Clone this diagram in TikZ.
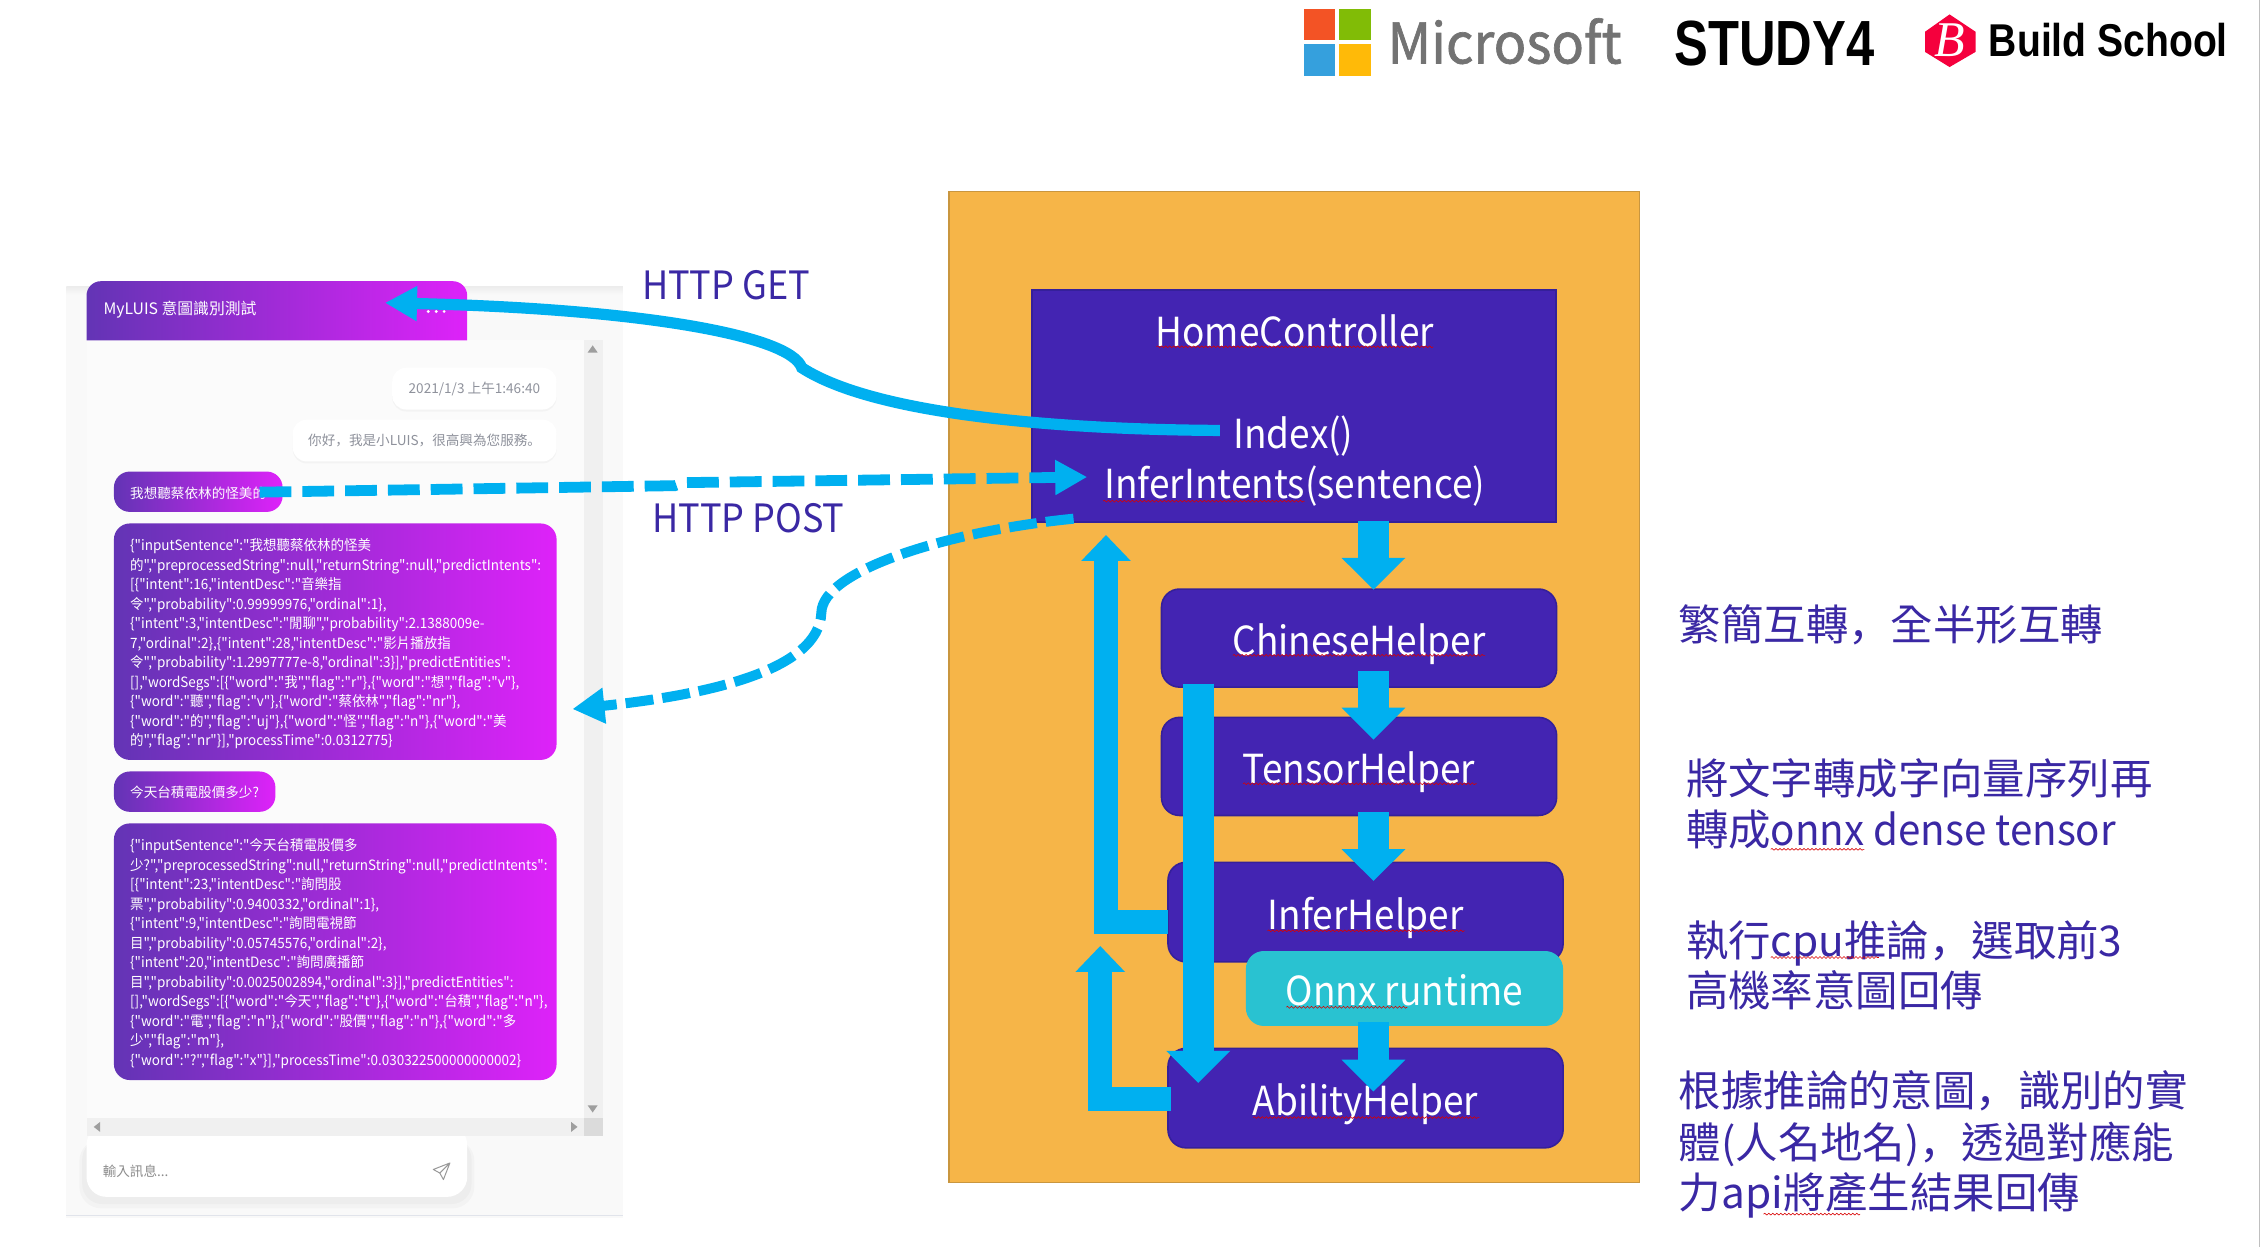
\documentclass[tikz,border=0pt]{standalone}
\usepackage{fontspec}
\usepackage{graphicx}
\setmainfont{Noto Sans CJK TC}
\newfontfamily\scf{Noto Sans CJK SC}
\newfontfamily\lab[FakeStretch=0.925]{Noto Sans CJK TC}
\newfontfamily\latn[FakeStretch=0.95]{Noto Sans CJK TC}
\newfontfamily\chatf[FakeStretch=0.95]{Noto Sans CJK TC}
\newfontfamily\msf[FakeBold=1.2,FakeStretch=0.96]{Noto Sans CJK TC}
\newfontfamily\boldf{Liberation Sans Bold}
\newfontfamily\bsf[FakeStretch=0.85]{Liberation Sans Bold}
\newfontfamily\serifit{Liberation Serif Italic}
\usetikzlibrary{arrows.meta,decorations.pathmorphing,shadows}
\definecolor{orangebg}{HTML}{F6B548}
\definecolor{orangeln}{HTML}{C9963F}
\definecolor{boxblue}{HTML}{4324B2}
\definecolor{boxln}{HTML}{35209A}
\definecolor{teal}{HTML}{29C2D1}
\definecolor{arrowc}{HTML}{00B0F0}
\definecolor{inkblue}{HTML}{3A28A4}
\definecolor{gl}{HTML}{6334B5}
\definecolor{gr}{HTML}{DE22F9}
\definecolor{greytxt}{HTML}{8F929C}
\tikzset{
  x=0.721pt,y=-0.721pt,
  boxfont/.style={font=\lab\fontsize{20}{24}\selectfont,text=white,text height=20.5pt,text depth=3.2pt},
  helper/.style={draw=boxln,line width=0.8pt,fill=boxblue,rounded corners=9pt,boxfont,inner sep=0pt},
  lbl/.style={boxfont,inner sep=0pt},
  flow/.style={draw=arrowc,line width=15.3pt,-{Triangle[length=16pt,width=31pt]}},
  backflow/.style={draw=arrowc,line width=12pt,-{Triangle[length=13pt,width=24pt]}},
  curve/.style={draw=arrowc,line width=5.6pt,-{Triangle[length=16pt,width=16.5pt]}},
  dashy/.style={draw=arrowc,line width=5.4pt,dash pattern=on 15.9pt off 5.5pt,-{Triangle[length=16pt,width=16.5pt]}},
  dashyb/.style={draw=arrowc,line width=5pt,dash pattern=on 14pt off 4.5pt,-{Triangle[length=16pt,width=17pt]}},
  httpl/.style={font=\lab\fontsize{19.5}{24}\selectfont,text=inkblue,inner sep=0pt,anchor=base west},
  side/.style={font=\fontsize{21.2}{25.45}\selectfont,text=inkblue,inner sep=0pt,align=left,anchor=west,text height=19pt,text depth=3pt},
  grad/.style={left color=gl,right color=gr,draw=none,inner sep=0pt},
  chat/.style={font=\chatf\fontsize{7.1}{9.73}\selectfont,text=white,inner sep=0pt,align=left,anchor=north west},
  small/.style={font=\fontsize{6.8}{9}\selectfont,inner sep=0pt},
  soft/.style={fill=white,draw=none,rounded corners=7pt,inner sep=0pt,drop shadow={opacity=.06,shadow xshift=0pt,shadow yshift=-1pt}},
  squig/.style={draw=red!85!black,line width=0.3pt,decorate,decoration={snake,amplitude=0.45pt,segment length=2pt}},
  scrolltri/.style={fill=black!38,draw=none},
}
\begin{document}
\begin{tikzpicture}
\useasboundingbox (0,0) rectangle (1568,864.8);
\fill[white] (0,0) rectangle (1568,864.8);
\draw[black!25,line width=0.6pt] (1567,0) -- (1567,864.8);

% logos
\fill[fill={rgb,255:red,243;green,83;blue,37}] (904,6) rectangle (926,28);
\fill[fill={rgb,255:red,129;green,188;blue,6}] (928.5,6) rectangle (951,28);
\fill[fill={rgb,255:red,53;green,160;blue,221}] (904,30.5) rectangle (926,53);
\fill[fill={rgb,255:red,255;green,186;blue,8}] (928.5,30.5) rectangle (951,53);
\node[inner sep=0pt,anchor=base west,text={rgb,255:red,115;green,115;blue,115},font=\msf\fontsize{28}{32}\selectfont] (ms) at (962,44) {Microsoft};
\node[inner sep=0pt] (study) at (1230.5,30.5) {\resizebox{100pt}{22.3pt}{\boldf STUDY4}};
\fill[fill={rgb,255:red,245;green,0;blue,61}] (1352,10) -- (1370,22) -- (1370,36) -- (1352,46.5) -- (1335,36) -- (1335,22) -- cycle;
\node[inner sep=0pt,text=white,font=\serifit\fontsize{25}{28}\selectfont] (bsb) at (1352,28) {B};
\node[inner sep=0pt,anchor=base west,font=\bsf\fontsize{23}{26}\selectfont] (bs) at (1379,39) {Build School};

% chat window
\fill[fill=black!2.5] (46,199) rectangle (432,845);
\shade[top color=black!7,bottom color=black!2.5] (46,199) rectangle (432,204);
\draw[line width=0.6pt,draw={rgb,255:red,225;green,228;blue,235}] (46,843) -- (432,843);
\fill[fill={rgb,255:red,251;green,251;blue,251}] (60,236) rectangle (405,775);
\fill[fill=black!6] (405,236) rectangle (418,775);
% input
\path[fill=black,opacity=.025,rounded corners=11pt] (55,790) rectangle (329,838);
\path[fill=black,opacity=.025,rounded corners=10pt] (57,790) rectangle (327,835);
\path[fill=white,rounded corners=10pt] (60,780) rectangle (324,830);
\fill[fill=black!6] (60,775) rectangle (405,788);
\fill[fill=black!14] (405,775) rectangle (418,788);
\fill[scrolltri] (411,239.5) -- (414.5,244.5) -- (407.5,244.5) -- cycle;
\fill[scrolltri] (411,771.5) -- (414.5,766.5) -- (407.5,766.5) -- cycle;
\fill[scrolltri] (65,781.5) -- (69.5,778) -- (69.5,785) -- cycle;
\fill[scrolltri] (400.5,781.5) -- (396,778) -- (396,785) -- cycle;
\node[small,text=black!45,anchor=west] (inp) at (71,812) {輸入訊息...};
\draw[black!40,line width=0.5pt,line join=round] (312,806.5) -- (300.5,811) -- (305,813.5) -- (307.5,818) -- cycle (305,813.5) -- (312,806.5);
% header
\path[grad] (60,236) [rounded corners=7.2pt] -- (60,195) -- (324,195) [sharp corners] -- (324,236) -- cycle;
\node[small,text=white,anchor=west,font=\fontsize{7.9}{9}\selectfont] (title) at (71.5,214.5) {MyLUIS 意圖識別測試};
\fill[white] (297,216) circle (1.1) (302.5,216) circle (1.1) (308,216) circle (1.1);
% bubbles
\node[soft,minimum width=114*0.721pt,minimum height=29*0.721pt,small,text=greytxt] (time) at (329,269.5) {2021/1/3 上午1:46:40};
\node[soft,minimum width=183*0.721pt,minimum height=29*0.721pt,small,text=greytxt] (hello) at (294.5,305.5) {你好{\scf，}我是小LUIS{\scf，}很高興為您服務{\scf。}};
\node[grad,rounded corners=8pt,minimum width=117*0.721pt,minimum height=28*0.721pt] (q1) at (137.5,341) {};
\node[small,text=white,anchor=west] (q1t) at (90,342) {我想聽蔡依林的怪美的};
\node[grad,rounded corners=8pt,minimum width=307*0.721pt,minimum height=164*0.721pt] (r1) at (232.5,445) {};
\node[chat] (r1t) at (90,373.5) {\{"inputSentence":"我想聽蔡依林的怪美\\
的","preprocessedString":null,"returnString":null,"predictIntents":\\
{[}\{"intent":16,"intentDesc":"音樂指\\
令","probability":0.99999976,"ordinal":1\},\\
\{"intent":3,"intentDesc":"閒聊","probability":2.1388009e-\\
7,"ordinal":2\},\{"intent":28,"intentDesc":"影片播放指\\
令","probability":1.2997777e-8,"ordinal":3\}],"predictEntities":\\
{[}],"wordSegs":[\{"word":"我","flag":"r"\},\{"word":"想","flag":"v"\},\\
\{"word":"聽","flag":"v"\},\{"word":"蔡依林","flag":"nr"\},\\
\{"word":"的","flag":"uj"\},\{"word":"怪","flag":"n"\},\{"word":"美\\
的","flag":"nr"\}],"processTime":0.0312775\}};
\node[grad,rounded corners=8pt,minimum width=112*0.721pt,minimum height=28*0.721pt] (q2) at (135,549) {};
\node[small,text=white,anchor=west] (q2t) at (90,549.5) {今天台積電股價多少?};
\node[grad,rounded corners=8pt,minimum width=307*0.721pt,minimum height=178*0.721pt] (r2) at (232.5,660) {};
\node[chat] (r2t) at (90,581.5) {\{"inputSentence":"今天台積電股價多\\
少?","preprocessedString":null,"returnString":null,"predictIntents":\\
{[}\{"intent":23,"intentDesc":"詢問股\\
票","probability":0.9400332,"ordinal":1\},\\
\{"intent":9,"intentDesc":"詢問電視節\\
目","probability":0.05745576,"ordinal":2\},\\
\{"intent":20,"intentDesc":"詢問廣播節\\
目","probability":0.0025002894,"ordinal":3\}],"predictEntities":\\
{[}],"wordSegs":[\{"word":"今天","flag":"t"\},\{"word":"台積","flag":"n"\},\\
\{"word":"電","flag":"n"\},\{"word":"股價","flag":"n"\},\{"word":"多\\
少","flag":"m"\},\\
\{"word":"?","flag":"x"\}],"processTime":0.030322500000000002\}};

% main panel
\node[draw=orangeln,line width=0.7pt,fill=orangebg,minimum width=479*0.721pt,minimum height=687*0.721pt,inner sep=0pt] (panel) at (897.5,476.5) {};
\node[draw=boxln,line width=1pt,fill=boxblue,minimum width=363*0.721pt,minimum height=161*0.721pt,inner sep=0pt] (home) at (897.5,281.5) {};
\node[lbl] (homet) at (898,228) {HomeController};
\node[lbl] (index) at (897,299) {Index()};
\node[lbl] (infer) at (898,334) {InferIntents(sentence)};
\node[helper,minimum width=274*0.721pt,minimum height=68*0.721pt] (chinese) at (942.5,442.5) {ChineseHelper};
\node[helper,minimum width=274*0.721pt,minimum height=68*0.721pt] (tensor) at (942.5,531.5) {TensorHelper};
\node[helper,minimum width=274*0.721pt,minimum height=69*0.721pt] (inferh) at (947,632.5) {InferHelper};
\node[helper,minimum width=274*0.721pt,minimum height=69*0.721pt] (ability) at (947,761.5) {AbilityHelper};
\node[draw=none,fill=teal,rounded corners=9pt,boxfont,inner sep=0pt,minimum width=220*0.721pt,minimum height=52*0.721pt] (onnx) at (974,685.5) {Onnx runtime};

% squiggles
\draw[squig] (802,240.5) -- (994,240.5);
\draw[squig] (765,347.5) -- (905,347.5);
\draw[squig] (855,454.5) -- (1030,454.5);
\draw[squig] (862,543.5) -- (1024,543.5);
\draw[squig] (879,645.5) -- (1016,645.5);
\draw[squig] (892,698.5) -- (976,698.5);
\draw[squig] (869,775) -- (1026,775);

% connector ends
\coordinate (a1s) at (952.5,361);
\coordinate (a1e) at (952.5,409);
\coordinate (a2s) at (952.5,465);
\coordinate (a2e) at (952.5,513);
\coordinate (a3s) at (952.5,563);
\coordinate (a3e) at (952.5,611);
\coordinate (a4s) at (952.5,709);
\coordinate (a4e) at (952.5,757);
\coordinate (ls) at (831,474);
\coordinate (le) at (831,751);
\coordinate (bis) at (810,639.5);
\coordinate (bim) at (767,639.5);
\coordinate (bie) at (767,371);
\coordinate (bas) at (812,762);
\coordinate (bam) at (763,762);
\coordinate (bae) at (763,656);
\coordinate (gets) at (846,298.5);
\coordinate (getm) at (556,255);
\coordinate (gete) at (267,210);
\coordinate (posts) at (180,341.3);
\coordinate (postm) at (468,336.8);
\coordinate (postn) at (474,334.7);
\coordinate (poste) at (754,330.8);
\coordinate (rets) at (744.5,359.7);
\coordinate (retm) at (569.6,425);
\coordinate (rete) at (397,491.7);

% connectors
\draw[flow] (a1s) -- (a1e);
\draw[flow] (a2s) -- (a2e);
\draw[flow] (a3s) -- (a3e);
\draw[flow] (a4s) -- (a4e);
\draw[flow] (ls) -- (le);
\draw[backflow] (bis) -- (bim) -- (bie);
\draw[backflow] (bas) -- (bam) -- (bae);
\draw[curve] (gets) .. controls (750,298) and (610,290) .. (getm) .. controls (548,232) and (440,214) .. (gete);
\draw[dashy] (posts) -- (postm) -- (postn) -- (poste);
\draw[dashyb] (rets) .. controls (660,368) and (570,395) .. (retm) .. controls (568,465) and (490,482) .. (rete);

% labels
\node[httpl] (get) at (445,208) {HTTP GET};
\node[httpl] (post) at (452,369) {HTTP POST};
\node[side] (s1) at (1164,433) {繁簡互轉{\scf，}全半形互轉};
\node[side] (s2) at (1169,540) {將文字轉成字向量序列再};
\node[side] (s2b) at (1169,575) {轉成{\latn onnx dense tensor}};
\node[side] (s3) at (1169,652) {執行cpu推論{\scf，}選取前3};
\node[side] (s3b) at (1169,687) {高機率意圖回傳};
\node[side] (s4) at (1164,756) {根據推論的意圖{\scf，}識別的實};
\node[side] (s4b) at (1164,792) {體(人名地名){\scf，}透過對應能};
\node[side] (s4c) at (1164,827) {力api將產生結果回傳};
\draw[squig] (1228,589) -- (1293,589);
\draw[squig] (1228,664) -- (1303,664);
\draw[squig] (1223,842) -- (1290,842);
\end{tikzpicture}
\end{document}
